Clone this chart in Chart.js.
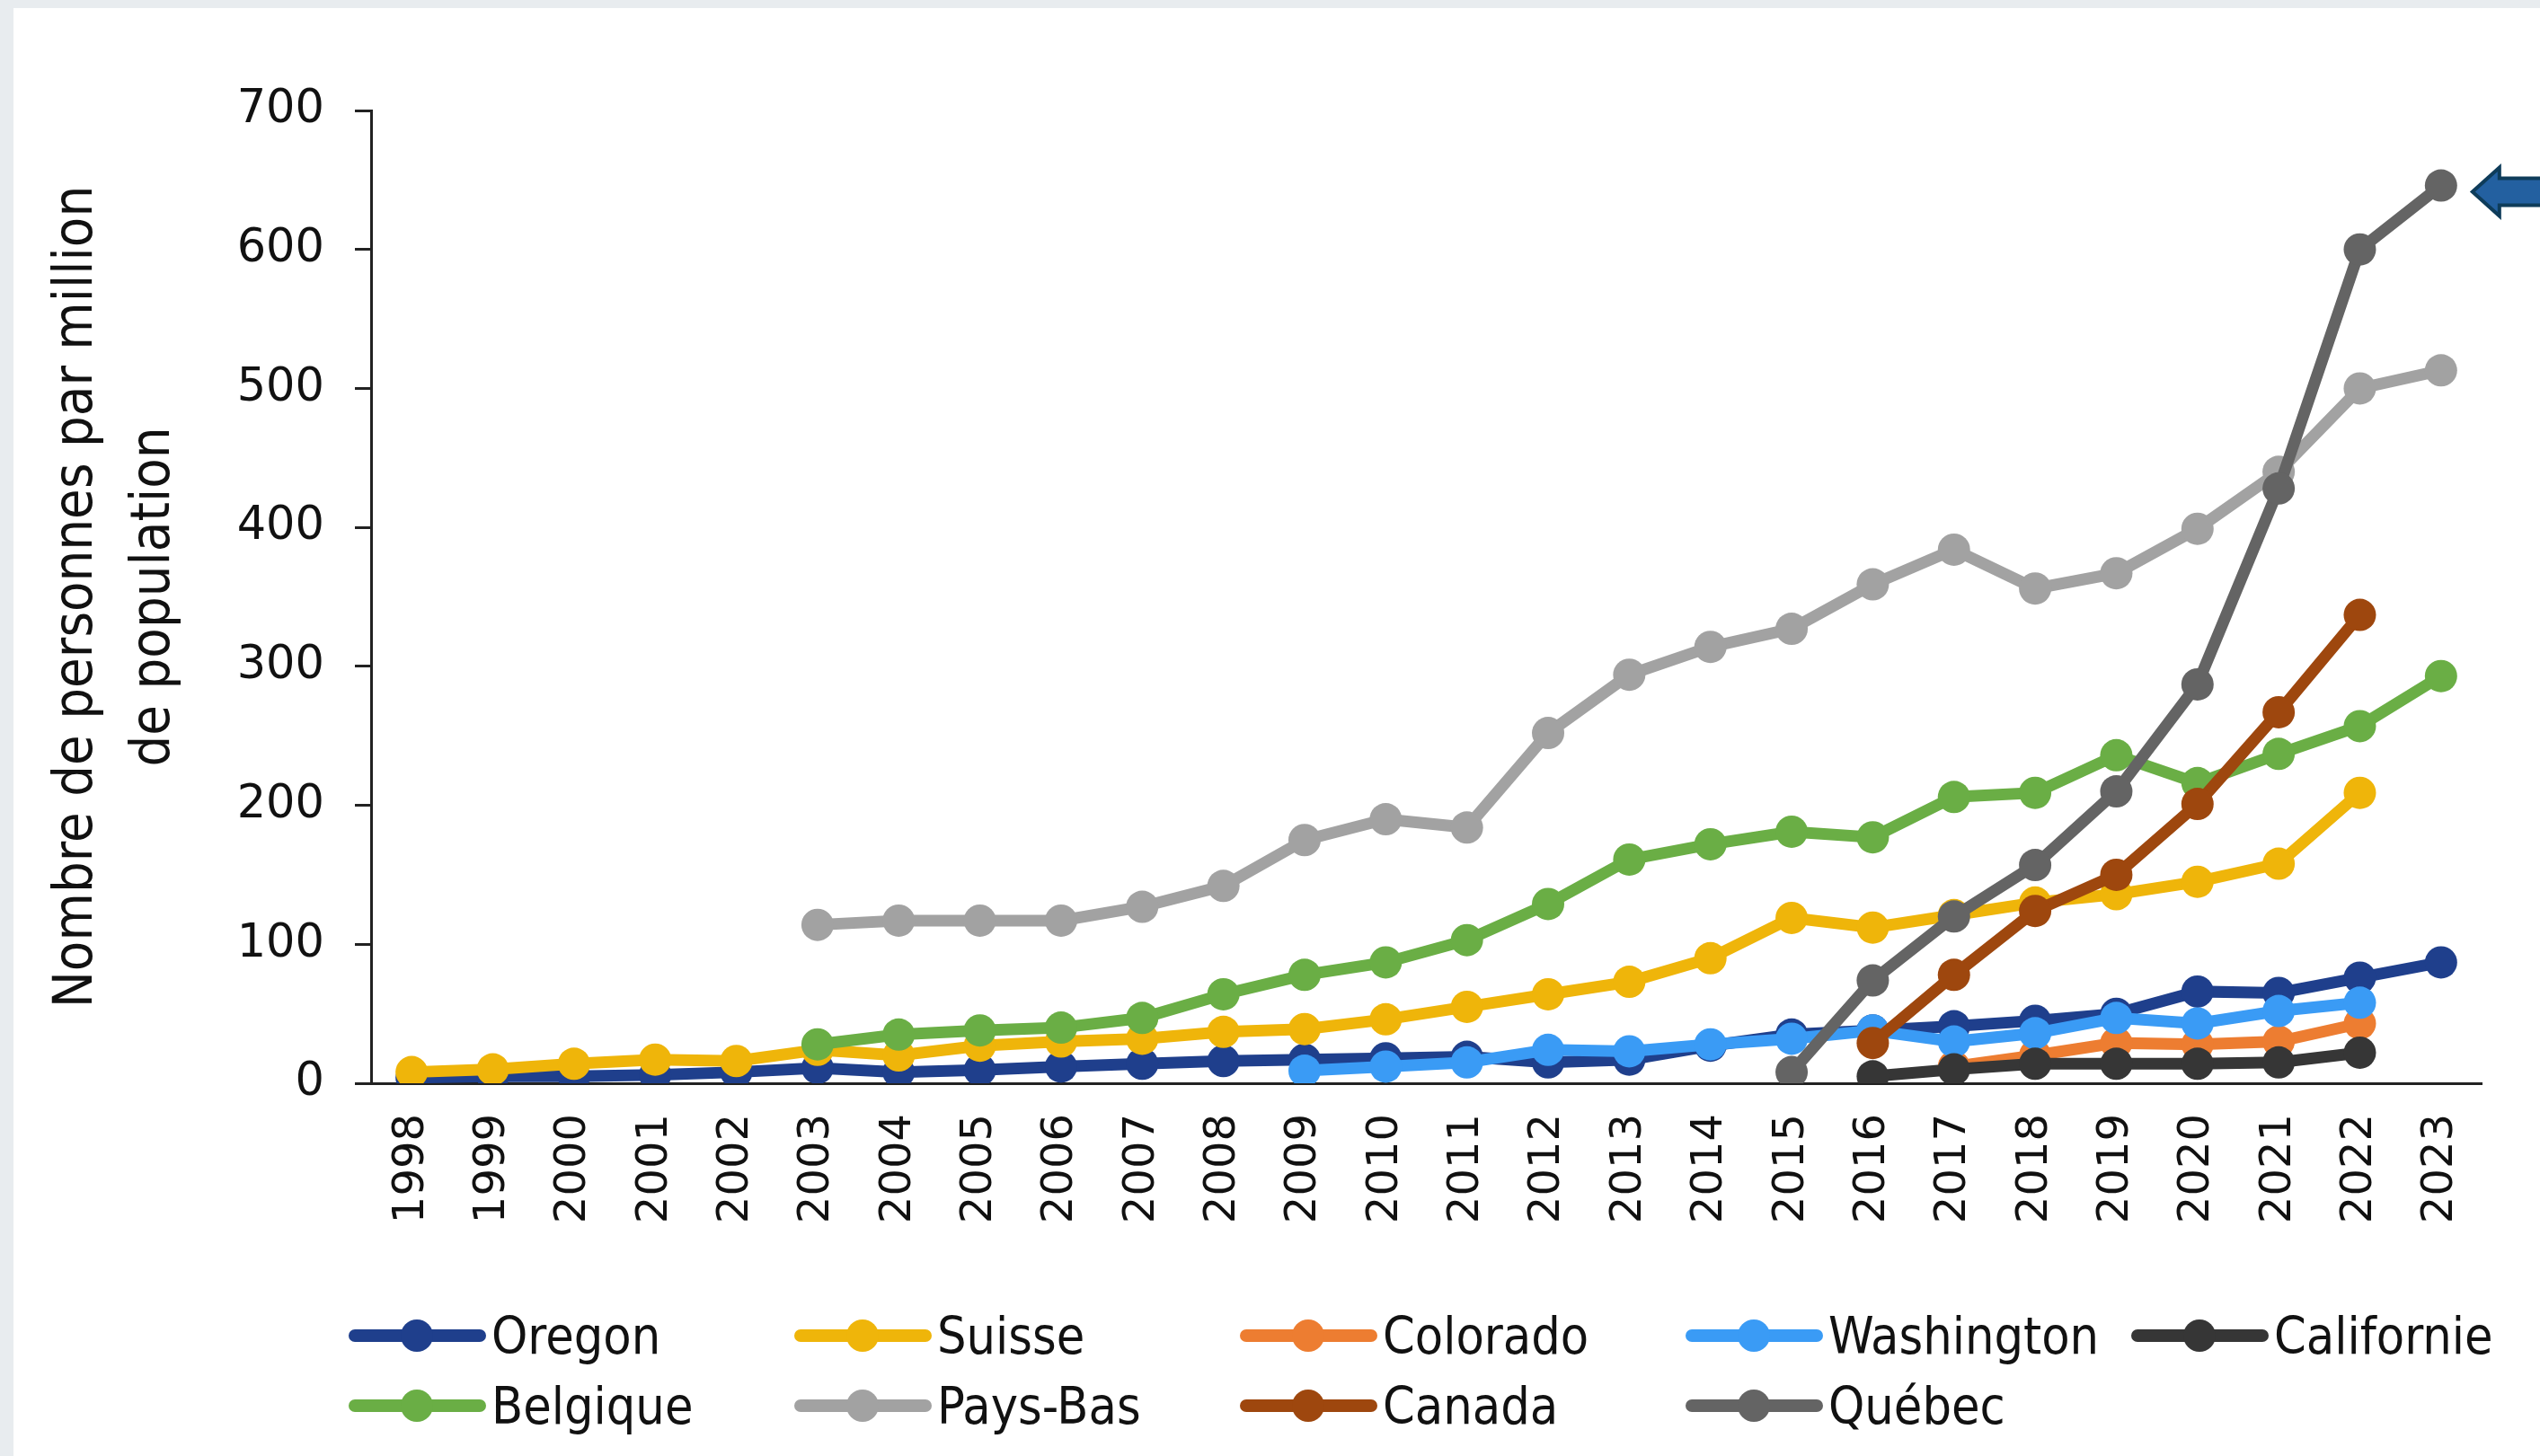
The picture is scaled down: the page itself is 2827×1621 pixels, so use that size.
<!DOCTYPE html>
<html>
<head>
<meta charset="utf-8">
<script src="https://cdn.jsdelivr.net/npm/chart.js@4.4.1/dist/chart.umd.min.js"></script>
<style>
    html, body { margin: 0; padding: 0; }
    body { width: 2827px; height: 1621px; background: #e8ecef; position: relative; overflow: hidden; }
    #panel { position: absolute; left: 15px; top: 9px; width: 2812px; height: 1612px; background: #ffffff; }
    #chart { position: absolute; left: 0; top: 0; }
    #legend {
        position: absolute; left: 373px; top: 1439px;
        display: grid; grid-template-columns: repeat(5, 496px); grid-auto-rows: 78px;
        font-family: "Liberation Sans Narrow", "DejaVu Sans Condensed", "Open Sans", sans-serif;
        font-size: 57px; color: #111;
    }
    .item { display: flex; align-items: center; height: 78px; white-space: nowrap; }
    .swatch { position: relative; width: 153px; height: 78px; flex: none; }
    .swatch .line { position: absolute; left: 0; right: 0; top: 32px; height: 14px; border-radius: 7px; }
    .swatch .dot { position: absolute; left: 58px; top: 21px; width: 36px; height: 36px; border-radius: 50%; }
    .item span { margin-left: 6px; }
</style>
</head>
<body>
<div id="panel">
    <canvas id="chart" width="2812" height="1612"></canvas>
    <div id="legend"></div>
</div>
<script>
    const years = ["1998", "1999", "2000", "2001", "2002", "2003", "2004", "2005", "2006", "2007", "2008", "2009", "2010",
        "2011", "2012", "2013", "2014", "2015", "2016", "2017", "2018", "2019", "2020", "2021", "2022", "2023"];
    const yTicks = [0, 100, 200, 300, 400, 500, 600, 700];

    // values per million, null where the series has no data
    const oregon = [4, 5, 5, 6, 8, 11, 8, 9.5, 12, 14, 16, 17, 18, 19, 15, 17, 27, 35, 38, 41, 45, 50, 66, 65, 76, 87];
    const suisse = [8, 10, 14, 17, 16, 24, 20, 27, 30, 32, 37, 39, 46, 55, 64, 73, 90, 119, 112, 121, 130, 136, 145, 158, 209, null];
    const colorado = [null, null, null, null, null, null, null, null, null, null, null, null, null, null, null, null, null, null, null,
        12, 20, 29, 28, 30, 43, null];
    const washington = [null, null, null, null, null, null, null, null, null, null, null,
        9, 12, 15, 24, 23, 28, 32, 38, 30, 36, 47, 43, 52, 58, null];
    const californie = [null, null, null, null, null, null, null, null, null, null, null, null, null, null, null, null, null, null,
        5, 10, 14, 14, 14, 15, 22, null];
    const belgique = [null, null, null, null, null,
        28, 35, 38, 40, 47, 64, 78, 87, 103, 129, 161, 172, 181, 177, 206, 209, 236, 216, 237, 257, 293];
    const paysBas = [null, null, null, null, null,
        114, 117, 117, 117, 127, 142, 175, 190, 184, 252, 294, 314, 327, 359, 384, 356, 367, 399, 440, 500, 513];
    const canada = [null, null, null, null, null, null, null, null, null, null, null, null, null, null, null, null, null, null,
        29, 78, 124, 150, 201, 267, 337, null];
    const quebec = [null, null, null, null, null, null, null, null, null, null, null, null, null, null, null, null, null,
        8, 74, 120, 157, 210, 287, 428, 600, 646];

    const seriesNames = ["Oregon", "Suisse", "Colorado", "Washington", "Californie", "Belgique", "Pays-Bas", "Canada", "Québec"];
    const seriesData = [oregon, suisse, colorado, washington, californie, belgique, paysBas, canada, quebec];
    const seriesColors = ["#1f3f8c", "#efb50a", "#ed7d31", "#3a9bf5", "#363636", "#6aae45", "#a2a2a2", "#9e470e", "#646464"];

    const narrowFont = '"Liberation Sans Narrow", "DejaVu Sans Condensed", "Open Sans", sans-serif';
    const tickFont = '"DejaVu Sans", Verdana, sans-serif';

    const datasets = seriesNames.map((name, i) => ({
        label: name,
        data: seriesData[i],
        borderColor: seriesColors[i],
        backgroundColor: seriesColors[i],
        pointBackgroundColor: seriesColors[i],
        pointBorderWidth: 0,
        pointRadius: 18,
        borderWidth: 13,
        tension: 0,
        order: seriesNames.length - i // later series drawn on top, like the original
    }));

    // arrow pointing at the last Québec point
    const arrowPlugin = {
        id: "arrow",
        afterDatasetsDraw(chart) {
            const meta = chart.getDatasetMeta(seriesNames.indexOf("Québec"));
            const pt = meta.data[meta.data.length - 1];
            const ctx = chart.ctx;
            const tipX = pt.x + 35, y = pt.y + 7;
            const headLen = 30, headH = 27, bodyH = 15;
            const endX = chart.width + 10;
            ctx.save();
            ctx.beginPath();
            ctx.moveTo(tipX, y);
            ctx.lineTo(tipX + headLen, y - headH);
            ctx.lineTo(tipX + headLen, y - bodyH);
            ctx.lineTo(endX, y - bodyH);
            ctx.lineTo(endX, y + bodyH);
            ctx.lineTo(tipX + headLen, y + bodyH);
            ctx.lineTo(tipX + headLen, y + headH);
            ctx.closePath();
            ctx.fillStyle = "#2360a0";
            ctx.fill();
            ctx.lineWidth = 4;
            ctx.lineJoin = "miter";
            ctx.strokeStyle = "#0e3c5a";
            ctx.stroke();
            ctx.restore();
        }
    };

    new Chart(document.getElementById("chart").getContext("2d"), {
        type: "line",
        data: { labels: years, datasets: datasets },
        options: {
            responsive: false,
            animation: false,
            devicePixelRatio: 1,
            layout: { padding: { left: 0, top: 114, right: 65, bottom: 0 } },
            plugins: {
                legend: { display: false },
                tooltip: { enabled: false }
            },
            scales: {
                x: {
                    offset: true,
                    grid: { display: false, drawTicks: false },
                    border: { display: true, color: "#222", width: 3 },
                    ticks: {
                        autoSkip: false,
                        minRotation: 90,
                        maxRotation: 90,
                        padding: 34,
                        color: "#111",
                        font: { family: tickFont, size: 48 }
                    },
                    afterFit: s => { s.height = 415; }
                },
                y: {
                    min: 0,
                    max: 700,
                    afterBuildTicks: s => { s.ticks = yTicks.map(v => ({ value: v })); },
                    grid: { display: true, drawOnChartArea: false, drawTicks: true, tickLength: 18, color: "#222", lineWidth: 3 },
                    border: { display: true, color: "#222", width: 3 },
                    ticks: {
                        padding: 34,
                        color: "#111",
                        font: { family: tickFont, size: 51 }
                    },
                    title: {
                        display: true,
                        text: ["Nombre de personnes par million", "de population"],
                        color: "#111",
                        font: { family: narrowFont, size: 61, lineHeight: 1.41 },
                        padding: { top: 28, bottom: 0 }
                    },
                    afterFit: s => { s.width = 398; }
                }
            }
        },
        plugins: [arrowPlugin]
    });

    // legend laid out in a fixed 5-column grid, as in the original
    const legend = document.getElementById("legend");
    seriesNames.forEach((name, i) => {
        const item = document.createElement("div");
        item.className = "item";
        item.innerHTML = '<div class="swatch"><div class="line"></div><div class="dot"></div></div><span></span>';
        item.querySelector(".line").style.background = seriesColors[i];
        item.querySelector(".dot").style.background = seriesColors[i];
        item.querySelector("span").textContent = name;
        legend.appendChild(item);
    });
</script>
</body>
</html>
